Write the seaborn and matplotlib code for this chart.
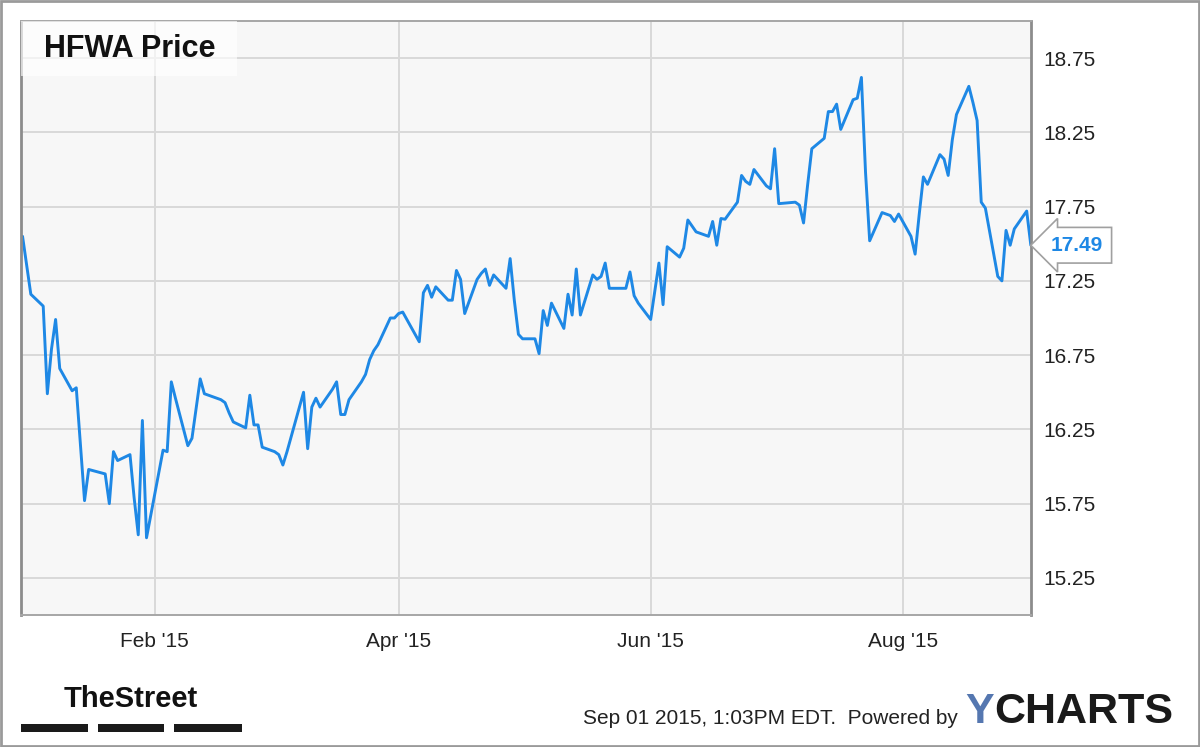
import numpy as np
import pandas as pd
import matplotlib
matplotlib.use("Agg")
import matplotlib.pyplot as plt
import matplotlib.dates as mdates
import matplotlib.transforms as mtransforms
from matplotlib.patches import Rectangle
from matplotlib import font_manager
import seaborn as sns

# ---- data ----
market_holidays = ["2015-01-01", "2015-01-19", "2015-02-16", "2015-04-03",
                   "2015-05-25", "2015-07-03"]
dec_2014 = [17.55]
jan = [17.16, 17.08, 16.49, 16.79, 16.99, 16.66, 16.51, 16.53, 16.15, 15.77,
       15.98, 15.95, 15.75, 16.10, 16.04, 16.08, 15.79, 15.54, 16.31, 15.52]
feb = [15.96, 16.11, 16.10, 16.57, 16.46, 16.14, 16.19, 16.39, 16.59, 16.49,
       16.45, 16.43, 16.36, 16.30, 16.26, 16.48, 16.28, 16.28, 16.13]
mar = [16.10, 16.08, 16.01, 16.10, 16.20, 16.50, 16.12, 16.40, 16.46, 16.40,
       16.52, 16.57, 16.35, 16.35, 16.45, 16.57, 16.62, 16.72, 16.78, 16.82,
       17.00, 17.00]
apr = [17.03, 17.04, 16.84, 17.17, 17.22, 17.14, 17.21, 17.12, 17.12, 17.32,
       17.26, 17.03, 17.26, 17.30, 17.33, 17.22, 17.29, 17.20, 17.40, 17.12,
       16.89]
may = [16.86, 16.86, 16.76, 17.05, 16.95, 17.10, 16.93, 17.16, 17.02, 17.33,
       17.02, 17.29, 17.26, 17.28, 17.37, 17.20, 17.20, 17.31, 17.15, 17.10]
jun = [16.99, 17.18, 17.37, 17.09, 17.48, 17.41, 17.47, 17.66, 17.62, 17.58,
       17.55, 17.65, 17.49, 17.67, 17.665, 17.78, 17.96, 17.92, 17.90, 18.00,
       17.89, 17.87]
jul = [18.14, 17.77, 17.78, 17.76, 17.64, 17.90, 18.14, 18.21, 18.39, 18.39,
       18.44, 18.27, 18.47, 18.48, 18.62, 17.98, 17.52, 17.71, 17.70, 17.69,
       17.65, 17.70]
aug = [17.55, 17.43, 17.70, 17.95, 17.90, 18.10, 18.07, 17.96, 18.20, 18.37,
       18.56, 18.45, 18.33, 17.78, 17.74, 17.28, 17.25, 17.59, 17.49, 17.60,
       17.72]
sep_2015 = [17.49]

y_ticks = [15.25, 15.75, 16.25, 16.75, 17.25, 17.75, 18.25, 18.75]
x_tick_dates = ["2015-02-01", "2015-04-01", "2015-06-01", "2015-08-01"]
last_label = "17.49"
title = "HFWA Price"
footer = "Sep 01 2015, 1:03PM EDT.  Powered by"

prices = dec_2014 + jan + feb + mar + apr + may + jun + jul + aug + sep_2015
dates = pd.bdate_range("2014-12-31", "2015-09-01", freq="C",
                       holidays=market_holidays)
df = pd.DataFrame({"date": dates[:len(prices)], "price": prices})

# ---- style ----
sns.set_style("white")
plt.rcParams["font.family"] = ["Liberation Sans", "DejaVu Sans"]
names = {f.name for f in font_manager.fontManager.ttflist}
narrow = "Liberation Sans Narrow" in names

W, H = 1200, 747
fig = plt.figure(figsize=(W / 100, H / 100), dpi=100)
fig.patch.set_facecolor("white")

L, R, T, B = 21, 1031, 21, 615
ax = fig.add_axes([L / W, 1 - B / H, (R - L) / W, (B - T) / H])
ax.set_facecolor("#f7f7f7")

line_color = "#1e88e5"
sns.lineplot(data=df, x="date", y="price", ax=ax, color=line_color,
             linewidth=2.1)

ax.set_xlim(pd.Timestamp("2014-12-30 15:00"), pd.Timestamp("2015-09-01 01:00"))
ax.set_ylim(15.0, 19.0)
ax.set_yticks(y_ticks)
ax.set_yticklabels([f"{v:.2f}" for v in y_ticks])
ax.yaxis.tick_right()
ax.set_xticks([pd.Timestamp(d) for d in x_tick_dates])
ax.xaxis.set_major_formatter(mdates.DateFormatter("%b '%y"))
ax.tick_params(axis="both", length=0, labelsize=15, colors="#222222")
ax.tick_params(axis="y", pad=9)
ax.tick_params(axis="x", pad=12)
ax.set_xlabel("")
ax.set_ylabel("")
ax.grid(True, color="#d9d9d9", linewidth=1.4)
ax.set_axisbelow(True)
for side, sp in ax.spines.items():
    sp.set_color("#a6a6a6")
    sp.set_linewidth(1.4)
ax.spines["left"].set_color("#8c8c8c")
ax.spines["left"].set_linewidth(2.0)
ax.spines["right"].set_color("#8c8c8c")
ax.spines["right"].set_linewidth(2.0)

# title box
ax.add_patch(Rectangle((0, 1 - (76 - T) / (B - T)), (237 - L) / (R - L),
                       (76 - T) / (B - T), transform=ax.transAxes,
                       facecolor="white", alpha=0.65, edgecolor="none",
                       zorder=3))
ax.text((44 - L) / (R - L), 1 - (49 - T) / (B - T), title,
        transform=ax.transAxes, fontsize=22, fontweight="bold",
        color="#111111", ha="left", va="center", zorder=4)

# last value flag
trans = mtransforms.blended_transform_factory(ax.transAxes, ax.transData)
ax.text((1051 - L) / (R - L), prices[-1], last_label, transform=trans,
        fontsize=15, fontweight="bold", color=line_color, ha="left",
        va="center", clip_on=False, zorder=5,
        bbox=dict(boxstyle="larrow,pad=0.4", facecolor="white",
                  edgecolor="#a0a0a0", linewidth=1.2))

# footer
def fx(px):
    return px / W

def fy(py):
    return 1 - py / H

if narrow:
    fig.text(fx(131), fy(699), "TheStreet", family="Liberation Sans Narrow",
             fontweight="bold", fontsize=26, ha="center", va="center",
             color="#111111")
else:
    fig.text(fx(131), fy(699), "TheStreet", fontweight="bold", fontsize=21,
             ha="center", va="center", color="#111111")
for x0, x1 in [(21, 88), (98, 164), (174, 242)]:
    fig.patches.append(Rectangle((fx(x0), fy(732)), (x1 - x0) / W, 8 / H,
                                 transform=fig.transFigure, facecolor="#1a1a1a",
                                 edgecolor="none"))
fig.text(fx(958), fy(719), footer, fontsize=15, ha="right", va="center",
         color="#222222")
y_txt = fig.text(fx(965), fy(712), "Y", fontsize=31, fontweight="bold",
                 color="#5577b0", ha="left", va="center")
fig.canvas.draw()
bb = y_txt.get_window_extent()
fig.text((bb.x1 + 1) / W, fy(712), "CHARTS", fontsize=31, fontweight="bold",
         color="#1a1a1a", ha="left", va="center")

# outer border
fig.patches.append(Rectangle((0.0008, 0.0013), 0.9984, 0.9974,
                             transform=fig.transFigure, facecolor="none",
                             edgecolor="#9a9a9a", linewidth=2))

fig.savefig("out.png", dpi=100)
